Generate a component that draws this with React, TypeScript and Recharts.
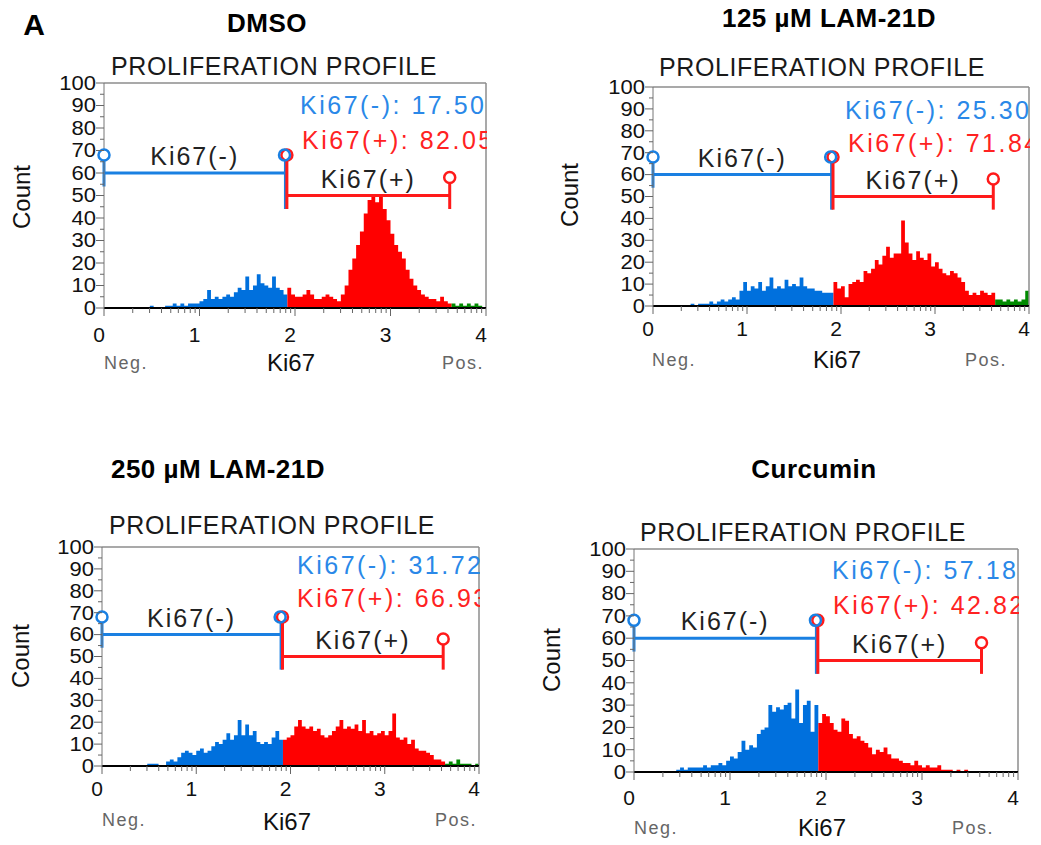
import React from 'react';
import { ComposedChart, Area, XAxis, YAxis, ReferenceLine, ReferenceDot } from 'recharts';

const FONT = '"Liberation Sans", Arial, Helvetica, sans-serif';

// histogram bins: 100 bins of 0.04 log-decade each, from 0 to 4
const BIN_WIDTH = 0.04;

const dmsoCounts = [
  0, 0, 0, 0, 0, 0, 0, 0, 0, 0,
  0, 0, 1, 0, 0, 0, 1, 1, 2, 1,
  2, 1, 2, 2, 2, 3, 4, 8, 4, 5,
  4, 5, 6, 5, 7, 9, 8, 14, 8, 10,
  15, 11, 10, 9, 14, 9, 8, 6, 9, 6,
  5, 5, 6, 8, 6, 4, 4, 5, 6, 5,
  4, 3, 6, 10, 17, 22, 28, 34, 42, 48,
  50, 47, 50, 44, 39, 33, 28, 25, 22, 17,
  13, 10, 8, 6, 5, 4, 4, 3, 5, 3,
  2, 2, 1, 2, 1, 2, 1, 2, 1, 0,
];

const lam125Counts = [
  0, 0, 0, 0, 0, 0, 0, 0, 0, 0,
  1, 0, 1, 1, 1, 2, 1, 2, 3, 2,
  3, 4, 3, 7, 11, 7, 9, 8, 11, 7,
  9, 13, 8, 9, 8, 12, 9, 10, 9, 13,
  9, 8, 8, 7, 7, 6, 6, 6, 11, 8,
  9, 4, 10, 11, 12, 11, 16, 15, 17, 21,
  19, 23, 27, 22, 24, 24, 39, 29, 24, 21,
  25, 22, 21, 24, 18, 20, 17, 15, 14, 16,
  15, 13, 11, 7, 5, 6, 5, 7, 6, 5,
  6, 3, 3, 2, 3, 2, 3, 2, 3, 7,
];

const lam250Counts = [
  0, 0, 0, 0, 0, 0, 0, 0, 0, 0,
  0, 0, 1, 1, 1, 0, 0, 2, 3, 2,
  4, 6, 7, 6, 5, 7, 8, 6, 7, 9,
  11, 10, 12, 15, 12, 14, 21, 14, 19, 14,
  16, 11, 10, 11, 10, 13, 16, 12, 12, 13,
  14, 18, 21, 18, 17, 18, 16, 17, 14, 13,
  14, 16, 18, 21, 17, 18, 17, 19, 16, 21,
  15, 16, 14, 15, 16, 14, 16, 24, 13, 12,
  13, 10, 12, 8, 7, 7, 6, 5, 3, 3,
  2, 1, 2, 1, 3, 1, 1, 1, 0, 1,
];

const curcuminCounts = [
  0, 0, 0, 0, 0, 0, 0, 0, 0, 0,
  0, 1, 2, 1, 2, 2, 2, 2, 3, 2,
  3, 3, 4, 3, 5, 7, 6, 9, 14, 10,
  12, 11, 17, 19, 20, 30, 27, 29, 28, 30,
  31, 24, 37, 22, 30, 32, 18, 30, 22, 26,
  25, 22, 19, 18, 24, 23, 17, 15, 16, 14,
  13, 11, 8, 10, 9, 11, 8, 6, 6, 5,
  4, 4, 3, 5, 3, 2, 3, 2, 2, 3,
  1, 1, 1, 0, 1, 0, 1, 0, 0, 0,
  0, 0, 0, 0, 0, 0, 0, 0, 0, 0,
];

const xMajorTicks = [0, 1, 2, 3, 4];
const xTickLabels = ['0', '1', '2', '3', '4'];
const xMinorMultipliers = [2, 3, 4, 5, 6, 7, 8, 9];
const yTicks = [0, 5, 10, 15, 20, 25, 30, 35, 40, 45, 50, 55, 60, 65, 70, 75, 80, 85, 90, 95, 100];

const negGate = { from: 0, to: 1.9, level: 60, label: 'Ki67(-)' };
const posGate = { from: 1.915, to: 3.62, level: 50, label: 'Ki67(+)' };

const HIST_BLUE = '#0070dd';
const HIST_RED = '#ff0000';
const HIST_GREEN = '#008a00';
const GATE_BLUE = '#1a80e2';
const GATE_RED = '#ff1a1a';
const STAT_BLUE = '#2a88e8';
const STAT_RED = '#ff2222';

const panels = [
  {
    key: 'dmso', title: 'DMSO', titlePos: [267, 23], counts: dmsoCounts, negPct: '17.50%', posPct: '82.05%',
    plot: { l: 104, t: 83, r: 486, b: 308 }, profile: [274, 66], count: [22, 197],
    ki67: [291, 363], neg: [126, 363], pos: [463, 363], tickDy: 26, statNeg: [196, 22], statPos: [198, 57],
  },
  {
    key: 'lam125', title: '125 µM LAM-21D', titlePos: [829, 18], counts: lam125Counts, negPct: '25.30%', posPct: '71.84%',
    plot: { l: 653, t: 87, r: 1029, b: 306 }, profile: [822, 67], count: [570, 195],
    ki67: [837, 360], neg: [674, 360], pos: [986, 360], tickDy: 22, statNeg: [192, 23], statPos: [195, 56],
  },
  {
    key: 'lam250', title: '250 µM LAM-21D', titlePos: [218, 469], counts: lam250Counts, negPct: '31.72%', posPct: '66.93%',
    plot: { l: 102, t: 547, r: 479, b: 766 }, profile: [272, 525], count: [21, 656],
    ki67: [287, 822], neg: [124, 820], pos: [456, 820], tickDy: 22, statNeg: [195, 18], statPos: [195, 51],
  },
  {
    key: 'curcumin', title: 'Curcumin', titlePos: [814, 469], counts: curcuminCounts, negPct: '57.18%', posPct: '42.82%',
    plot: { l: 634, t: 549, r: 1018, b: 772 }, profile: [803, 532], count: [552, 660],
    ki67: [822, 828], neg: [656, 828], pos: [973, 828], tickDy: 25, statNeg: [198, 21], statPos: [199, 56],
  },
];

const xTicks = [
  ...xMajorTicks,
  ...xMajorTicks.slice(0, 4).flatMap(d => xMinorMultipliers.map(m => d + Math.log10(m))),
].sort((a, b) => a - b);

function buildData(counts: number[]) {
  const rows = counts.map((c, i) => {
    const x = i * BIN_WIDTH;
    return {
      x,
      neg: x < negGate.to ? c : 0,
      pos: x >= negGate.to && x < posGate.to ? c : 0,
      out: x >= posGate.to ? c : 0,
    };
  });
  rows.push({ x: 4, neg: 0, pos: 0, out: 0 });
  return rows;
}

const Txt = ({ at, children, style, rotate }: any) => (
  <div
    style={{
      position: 'absolute', left: at[0], top: at[1], whiteSpace: 'nowrap', lineHeight: 1,
      transform: `translate(-50%, -50%)${rotate ? ' rotate(-90deg)' : ''}`,
      fontFamily: FONT, color: '#111', ...style,
    }}
  >
    {children}
  </div>
);

const renderXTick = (p: any, dy: number) => {
  const v = p.payload.value;
  const idx = xMajorTicks.findIndex(t => Math.abs(t - v) < 1e-9);
  const major = idx >= 0;
  return (
    <g>
      <line x1={p.x} x2={p.x} y1={p.y} y2={p.y + (major ? 8 : 5)} stroke="#666" strokeWidth={1} />
      {major && (
        <text x={p.x - 5} y={p.y + dy} textAnchor="middle" dominantBaseline="central" fontSize={21} fontFamily={FONT} fill="#111">
          {xTickLabels[idx]}
        </text>
      )}
    </g>
  );
};

const renderYTick = (p: any) => {
  const v = p.payload.value;
  const major = v % 10 === 0;
  return (
    <g>
      <line x1={p.x - (major ? 8 : 4)} x2={p.x} y1={p.y} y2={p.y} stroke="#666" strokeWidth={1} />
      {major && (
        <text
          transform={`translate(${p.x - 8},${p.y}) scale(1.1,1.05)`}
          textAnchor="end" dominantBaseline="central" fontSize={20} fontFamily={FONT} fill="#111"
        >
          {v}
        </text>
      )}
    </g>
  );
};

const gateText = (label: string) => (p: any) => (
  <text x={p.cx} y={p.cy} textAnchor="middle" dominantBaseline="central" fontSize={25} fontFamily={FONT} letterSpacing={2} fill="#222">
    {label}
  </text>
);

function HistPanel({ cfg }: any) {
  const { plot } = cfg;
  const ML = 100, MT = 22, MR = 12, XH = 40;
  const pw = plot.r - plot.l;
  const ph = plot.b - plot.t;
  const data = buildData(cfg.counts);
  const lo = posGate.level - 6;
  const negTop = negGate.level + 8;
  const posTop = posGate.level + 8;
  const statStyle = { position: 'absolute' as const, whiteSpace: 'nowrap' as const, fontFamily: FONT, fontSize: 25, letterSpacing: 2.5, lineHeight: 1, transform: 'translateY(-50%)' };

  return (
    <>
      <div style={{ position: 'absolute', left: plot.l - ML, top: plot.t - MT }}>
        <ComposedChart width={ML + pw + MR} height={MT + ph + XH} data={data} margin={{ top: MT, right: MR, bottom: 0, left: 0 }}>
          <XAxis
            type="number" dataKey="x" domain={[0, 4]} ticks={xTicks} interval={0} height={XH}
            tickLine={false} tickSize={0} tickMargin={0}
            axisLine={{ stroke: '#000', strokeWidth: 2 }}
            tick={(p: any) => renderXTick(p, cfg.tickDy)}
          />
          <YAxis
            type="number" domain={[0, 100]} ticks={yTicks} interval={0} width={ML}
            tickLine={false} tickSize={0} tickMargin={0}
            axisLine={{ stroke: '#777' }}
            tick={renderYTick}
          />
          <Area type="stepAfter" dataKey="neg" fill={HIST_BLUE} fillOpacity={1} stroke="none" isAnimationActive={false} />
          <Area type="stepAfter" dataKey="pos" fill={HIST_RED} fillOpacity={1} stroke="none" isAnimationActive={false} />
          <Area type="stepAfter" dataKey="out" fill={HIST_GREEN} fillOpacity={1} stroke="none" isAnimationActive={false} />
          <ReferenceLine y={100} stroke="#8c8c8c" strokeWidth={1.5} />
          <ReferenceLine x={4} stroke="#8c8c8c" strokeWidth={1.5} />

          {/* Ki67(-) gate */}
          <ReferenceLine segment={[{ x: negGate.from, y: negGate.level }, { x: negGate.to, y: negGate.level }]} stroke={GATE_BLUE} strokeWidth={3} ifOverflow="visible" />
          <ReferenceLine segment={[{ x: negGate.from, y: negGate.level - 6 }, { x: negGate.from, y: negTop }]} stroke={GATE_BLUE} strokeWidth={3} ifOverflow="visible" />
          <ReferenceLine segment={[{ x: negGate.to, y: lo }, { x: negGate.to, y: negTop }]} stroke={GATE_BLUE} strokeWidth={3} ifOverflow="visible" />

          {/* Ki67(+) gate */}
          <ReferenceLine segment={[{ x: posGate.from, y: posGate.level }, { x: posGate.to, y: posGate.level }]} stroke={GATE_RED} strokeWidth={3} ifOverflow="visible" />
          <ReferenceLine segment={[{ x: posGate.from, y: lo }, { x: posGate.from, y: negTop }]} stroke={GATE_RED} strokeWidth={3} ifOverflow="visible" />
          <ReferenceLine segment={[{ x: posGate.to, y: lo }, { x: posGate.to, y: posTop }]} stroke={GATE_RED} strokeWidth={3} ifOverflow="visible" />

          <ReferenceDot x={negGate.from} y={negTop} r={5.5} fill="#fff" stroke={GATE_BLUE} strokeWidth={2.5} ifOverflow="visible" />
          <ReferenceDot x={posGate.from} y={negTop} r={5.5} fill="#fff" stroke={GATE_RED} strokeWidth={2.5} ifOverflow="visible" />
          <ReferenceDot x={negGate.to - 0.01} y={negTop} r={5.5} fill="none" stroke={GATE_BLUE} strokeWidth={2.5} ifOverflow="visible" />
          <ReferenceDot x={posGate.to} y={posTop} r={5.5} fill="#fff" stroke={GATE_RED} strokeWidth={2.5} ifOverflow="visible" />

          <ReferenceDot x={(negGate.from + negGate.to) / 2} y={negGate.level + 7.5} r={1} ifOverflow="visible" shape={gateText(negGate.label)} />
          <ReferenceDot x={(posGate.from + posGate.to) / 2} y={posGate.level + 7.5} r={1} ifOverflow="visible" shape={gateText(posGate.label)} />
        </ComposedChart>
      </div>

      <div style={{ position: 'absolute', left: plot.l, top: plot.t, width: pw + 1, height: ph, overflow: 'hidden', pointerEvents: 'none' }}>
        <span style={{ ...statStyle, left: cfg.statNeg[0], top: cfg.statNeg[1], color: STAT_BLUE }}>Ki67(-): {cfg.negPct}</span>
        <span style={{ ...statStyle, left: cfg.statPos[0], top: cfg.statPos[1], color: STAT_RED }}>Ki67(+): {cfg.posPct}</span>
      </div>

      <Txt at={cfg.titlePos} style={{ fontWeight: 700, fontSize: 26, letterSpacing: 0.5, color: '#000' }}>{cfg.title}</Txt>
      <Txt at={cfg.profile} style={{ fontSize: 25, letterSpacing: 0.6, color: '#1a1a1a' }}>PROLIFERATION PROFILE</Txt>
      <Txt at={cfg.count} rotate style={{ fontSize: 24 }}>Count</Txt>
      <Txt at={cfg.ki67} style={{ fontSize: 24 }}>Ki67</Txt>
      <Txt at={cfg.neg} style={{ fontSize: 18, letterSpacing: 1.5, color: '#666' }}>Neg.</Txt>
      <Txt at={cfg.pos} style={{ fontSize: 18, letterSpacing: 1.5, color: '#666' }}>Pos.</Txt>
    </>
  );
}

export default function App() {
  return (
    <div style={{ position: 'absolute', left: 0, top: 0, width: 1041, height: 845, background: '#fff', overflow: 'hidden' }}>
      <Txt at={[34, 25]} style={{ fontWeight: 700, fontSize: 30, color: '#000' }}>A</Txt>
      {panels.map(cfg => (
        <HistPanel key={cfg.key} cfg={cfg} />
      ))}
    </div>
  );
}
